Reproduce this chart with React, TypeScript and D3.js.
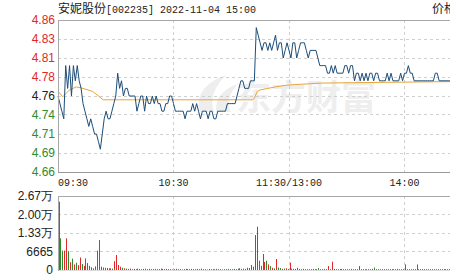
import React from "react";
import * as d3 from "d3";

// ---- data ----
const titleName = "安妮股份";
const titleRest = "[002235] 2022-11-04 15:00";
const rightTitle = "价格";
const prevClose = 4.76;

// one price per minute from 09:30 (m0)
const prices: number[] = [
  4.76, 4.75, 4.74, 4.73, 4.8, 4.77, 4.8, 4.76, 4.8, 4.78,
  4.8, 4.78, 4.77, 4.75, 4.74, 4.73, 4.72, 4.73, 4.72, 4.71,
  4.71, 4.7, 4.69, 4.71, 4.73, 4.74, 4.73, 4.73, 4.74, 4.75,
  4.76, 4.79, 4.77, 4.78, 4.76, 4.77, 4.77, 4.76, 4.76, 4.76,
  4.76, 4.74, 4.75, 4.76, 4.76, 4.74, 4.76, 4.75, 4.75, 4.76,
  4.75, 4.76, 4.75, 4.75, 4.74, 4.74, 4.75, 4.75, 4.76, 4.76,
  4.75, 4.74, 4.74, 4.74, 4.74, 4.74, 4.73, 4.74, 4.74, 4.74,
  4.75, 4.74, 4.75, 4.74, 4.73, 4.74, 4.74, 4.74, 4.73, 4.74,
  4.74, 4.73, 4.73, 4.74, 4.74, 4.74, 4.74, 4.74, 4.75, 4.75,
  4.75, 4.75, 4.75, 4.76, 4.77, 4.78, 4.78, 4.77, 4.77, 4.77,
  4.78, 4.78, 4.78, 4.85, 4.84, 4.83, 4.82, 4.83, 4.83, 4.82,
  4.83, 4.82, 4.83, 4.84, 4.82, 4.83, 4.83, 4.81, 4.82, 4.83,
  4.82, 4.81, 4.83, 4.83, 4.81, 4.82, 4.83, 4.83, 4.83, 4.82,
  4.81, 4.82, 4.82, 4.82, 4.82, 4.81, 4.8, 4.8, 4.8, 4.8,
  4.79, 4.79, 4.8, 4.79, 4.8, 4.79, 4.79, 4.79, 4.79, 4.8,
  4.8, 4.79, 4.8, 4.8, 4.78, 4.79, 4.79, 4.78, 4.79, 4.78,
  4.79, 4.78, 4.79, 4.79, 4.78, 4.79, 4.79, 4.78, 4.78, 4.78,
  4.78, 4.79, 4.78, 4.79, 4.78, 4.78, 4.78, 4.78, 4.79, 4.78,
  4.79, 4.79, 4.8, 4.79, 4.79, 4.78, 4.78, 4.78, 4.78, 4.78,
  4.78, 4.78, 4.78, 4.78, 4.78, 4.78, 4.79, 4.79, 4.78, 4.78,
  4.78, 4.78, 4.78, 4.78, 4.78, 4.78,
];

// average price line: [minute, value]
const avgMinutes: number[] = [0, 2.5, 6, 9.5, 13, 18, 21, 23.5, 60, 101, 102, 103.5, 105, 109, 113, 118, 123, 137, 170, 205];
const avgValues: number[] = [4.766, 4.759, 4.768, 4.772, 4.77, 4.766, 4.76, 4.755, 4.755, 4.755, 4.757, 4.766, 4.768, 4.77, 4.772, 4.774, 4.775, 4.777, 4.778, 4.779];

// volume per minute
const volumes: number[] = [
  24600, 11400, 7000, 7000, 11400, 6800, 2800, 4100, 2000, 2600,
  1700, 4500, 2200, 1500, 4200, 2500, 1500, 1000, 600, 1300,
  6960, 10800, 1200, 900, 800, 700, 600, 600, 500, 3200,
  5400, 1800, 1200, 800, 600, 500, 400, 500, 300, 400,
  300, 500, 400, 300, 400, 500, 300, 400, 300, 300,
  400, 300, 300, 500, 400, 300, 400, 300, 300, 200,
  300, 400, 300, 300, 200, 300, 400, 300, 300, 400,
  300, 300, 400, 300, 500, 300, 300, 200, 400, 300,
  300, 300, 400, 300, 300, 200, 300, 300, 400, 300,
  300, 400, 300, 500, 600, 400, 500, 400, 800, 700,
  1800, 1200, 12600, 15600, 3350, 1500, 5760, 2900, 3350, 2000,
  1400, 800, 600, 3960, 900, 700, 400, 500, 600, 400,
  2640, 500, 400, 400, 800, 400, 300, 400, 300, 300,
  300, 300, 400, 300, 300, 700, 300, 300, 400, 300,
  1400, 300, 3000, 400, 300, 300, 300, 400, 300, 300,
  300, 300, 400, 300, 300, 300, 1400, 300, 300, 300,
  300, 300, 300, 400, 900, 300, 300, 300, 300, 300,
  300, 300, 300, 300, 300, 300, 400, 300, 300, 300,
  2000, 300, 300, 300, 300, 300, 2000, 300, 300, 300,
  300, 300, 300, 300, 300, 300, 300, 300, 300, 300,
  300, 300, 300, 300, 500, 300,
];
// r = up (red), g = down (green)
const volumeDirs: string =
  "gggrrgrgrg" + "rrgrgrrggg" + "ggrggrgrgr" + "rrrgrggrgr" + "ggrrggrgrg" +
  "rgrgrgrgrg" + "grgrgrgrgr" + "rgrgrgrgrg" + "grgrgrgrgr" + "rgrgrrgrgr" +
  "rrrrggrrgr" + "grgrggrgrg" + "rgrggrgrgg" + "rgrgrggrgr" + "rgrgrgrgrg" +
  "grgrgrrgrg" + "grgrggrgrg" + "rgrgrgrgrg" + "rgrgrggrgr" + "grgrgrgrgr" + "grgrgr";

const priceTicks: number[] = [4.86, 4.835, 4.81, 4.785, 4.76, 4.735, 4.71, 4.685, 4.66];
const priceTickLabels: string[] = ["4.86", "4.83", "4.81", "4.78", "4.76", "4.74", "4.71", "4.69", "4.66"];
const volTicks: number[] = [26660, 19995, 13330, 6665, 0];
const volTickLabels: string[] = ["2.67万", "2.00万", "1.33万", "6665", "0"];
const timeTicks: number[] = [0, 60, 120, 180];
const timeTickLabels: string[] = ["09:30", "10:30", "11:30/13:00", "14:00"];

const W = 450;
const H = 276;
const RED = "#e0282a";
const GREEN = "#2f8a2f";
const GRID = "#cfcfcf";
const BORDER = "#a8a8a8";

export default function App() {
  const x = d3.scaleLinear().domain([0, 240]).range([58, 520]);
  const yP = d3.scaleLinear().domain([4.66, 4.86]).range([172, 20]);
  const yV = d3.scaleLinear().domain([0, 26660]).range([270, 196]);

  const priceLine = d3
    .line<number>()
    .x((_, i) => x(i))
    .y((d) => yP(d))(prices) as string;
  const avgLine = d3
    .line<number>()
    .x((_, i) => x(avgMinutes[i]))
    .y((d) => yP(d))(avgValues) as string;

  const px = (v: number) => Math.floor(v) + 0.5;
  const left = 58;
  const labelFont = "'Liberation Sans', Arial, sans-serif";
  const monoFont = "'Liberation Mono', 'DejaVu Sans Mono', monospace";

  return (
    <svg
      width={W}
      height={H}
      style={{ position: "absolute", left: 0, top: 0, background: "#fff" }}
      xmlns="http://www.w3.org/2000/svg"
    >
      <rect x={0} y={0} width={W} height={H} fill="#fff" />
      {/* title */}
      <text x={58} y={13} fill="#222">
        <tspan fontFamily="'Noto Sans CJK SC'" fontSize={12}>{titleName}</tspan>
        <tspan fontFamily={monoFont} fontSize={10}>{titleRest}</tspan>
      </text>
      <text x={432} y={13} fill="#222" fontFamily="'Noto Sans CJK SC'" fontSize={12}>
        {rightTitle}
      </text>

      {/* watermark */}
      <g fill="#eeeeee">
        <path d="M200,112 C195,96 205,82 226,75 C213,88 210,100 214,112 Z" />
        <path d="M216,112 C215,99 222,89 238,84 C228,94 227,104 231,112 Z" />
        <text x={236} y={110} fontFamily="'Noto Sans CJK SC'" fontWeight={700} fontSize={35}>
          东方财富
        </text>
      </g>

      {/* price grid */}
      {priceTicks.slice(1, -1).map((t, i) => (
        <line key={"pg" + i} x1={left} x2={W} y1={px(yP(t))} y2={px(yP(t))} stroke={GRID} strokeDasharray="3,3" />
      ))}
      {timeTicks.slice(1).map((t, i) => (
        <line key={"tg" + i} x1={px(x(t))} x2={px(x(t))} y1={20} y2={172} stroke={GRID} strokeDasharray="3,3" />
      ))}

      {/* average & price lines */}
      <path d={avgLine} fill="none" stroke="#e6a537" strokeWidth={1} />
      <path d={priceLine} fill="none" stroke="#1d4d78" strokeWidth={1} />

      {/* price borders */}
      <line x1={left} x2={W} y1={px(20)} y2={px(20)} stroke={BORDER} />
      <line x1={left} x2={W} y1={px(172)} y2={px(172)} stroke="#999" />
      <line x1={px(left)} x2={px(left)} y1={20} y2={172} stroke={BORDER} />

      {/* price labels */}
      {priceTicks.map((t, i) => (
        <text
          key={"pl" + i}
          x={55}
          y={yP(t)}
          dy="0.35em"
          textAnchor="end"
          fontFamily={labelFont}
          fontSize={12}
          fill={t > prevClose + 1e-9 ? RED : t < prevClose - 1e-9 ? GREEN : "#222"}
        >
          {priceTickLabels[i]}
        </text>
      ))}

      {/* time labels */}
      {timeTicks.map((t, i) => (
        <text
          key={"tl" + i}
          x={i === 0 ? left : x(t)}
          y={182}
          dy="0.35em"
          textAnchor={i === 0 ? "start" : "middle"}
          fontFamily={monoFont}
          fontSize={10}
          fill="#222"
        >
          {timeTickLabels[i]}
        </text>
      ))}

      {/* volume grid */}
      {volTicks.slice(1, -1).map((t, i) => (
        <line key={"vg" + i} x1={left} x2={W} y1={px(yV(t))} y2={px(yV(t))} stroke={GRID} strokeDasharray="3,3" />
      ))}
      {timeTicks.slice(1).map((t, i) => (
        <line key={"vtg" + i} x1={px(x(t))} x2={px(x(t))} y1={196} y2={270} stroke={GRID} strokeDasharray="3,3" />
      ))}

      {/* volume bars */}
      {volumes.map((v, i) => {
        const top = yV(v);
        return (
          <rect
            key={"vb" + i}
            x={Math.floor(x(i)) + 1}
            y={top}
            width={1}
            height={Math.max(0.8, yV(0) - top)}
            fill={volumeDirs[i] === "r" ? RED : GREEN}
          />
        );
      })}

      {/* volume borders */}
      <line x1={left} x2={W} y1={px(196)} y2={px(196)} stroke={BORDER} />
      <line x1={left} x2={W} y1={px(270)} y2={px(270)} stroke="#dcdcdc" />
      <line x1={px(left)} x2={px(left)} y1={196} y2={271} stroke={BORDER} />

      {/* volume labels */}
      {volTicks.map((t, i) => (
        <text
          key={"vl" + i}
          x={53}
          y={yV(t)}
          dy="0.35em"
          textAnchor="end"
          fontFamily={labelFont}
          fontSize={12}
          fill="#222"
        >
          {volTickLabels[i]}
        </text>
      ))}
    </svg>
  );
}
